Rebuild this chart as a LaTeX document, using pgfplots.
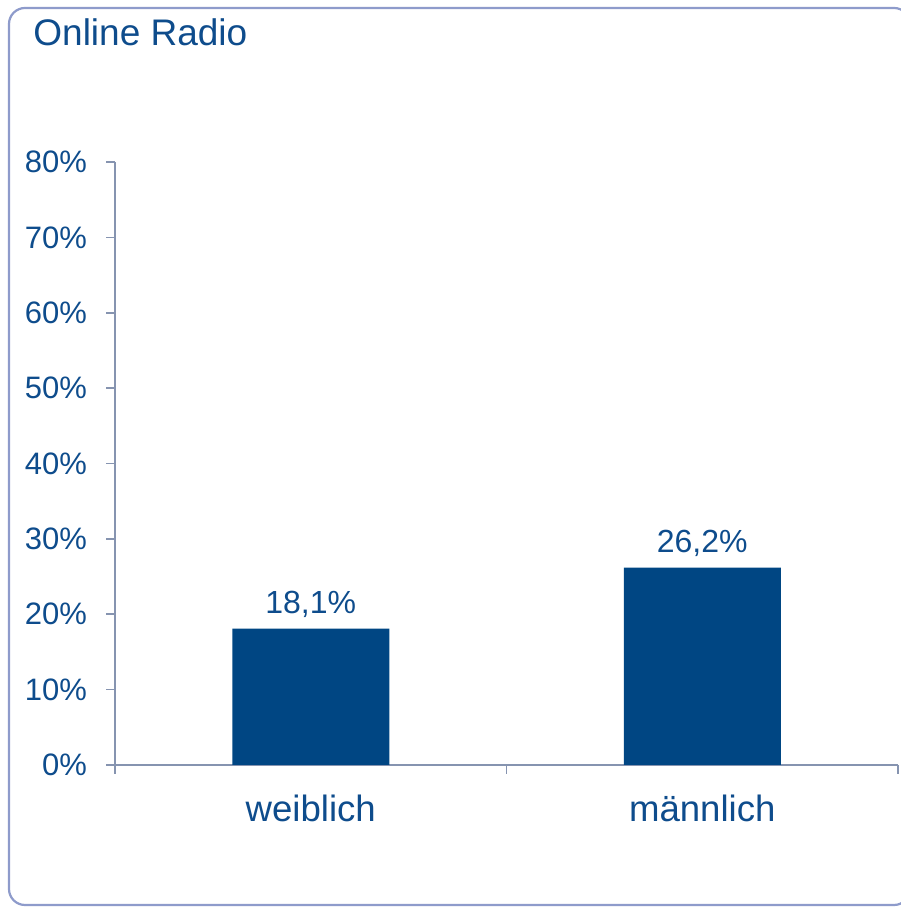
\documentclass[border=0pt]{standalone}
\usepackage{fontspec}
\setmainfont{Liberation Sans}
\usepackage{pgfplots}
\pgfplotsset{compat=1.18}
\definecolor{txt}{RGB}{14,76,140}
\definecolor{bar}{RGB}{0,70,131}
\definecolor{axisc}{RGB}{134,148,176}
\definecolor{frame}{RGB}{142,155,203}
\begin{document}
\begin{tikzpicture}[x=1bp,y=1bp]
\path[use as bounding box] (0,0) rectangle (450.5,454);
\draw[frame, line width=1.1bp, rounded corners=8bp] (4.5,1.5) rectangle (455,450);
\node[anchor=base west, text=txt, font=\fontsize{18.5bp}{22bp}\selectfont, inner sep=0pt] at (16.5,431) {Online Radio};
\begin{axis}[
  at={(57.5bp,71.5bp)}, anchor=south west,
  width=391.5bp, height=301.5bp, scale only axis,
  xmin=-0.5, xmax=1.5, ymin=0, ymax=80,
  axis lines=left, axis line style={axisc, line width=0.8bp, -},
  xtick={-0.5,0.5,1.5}, xticklabels={},
  extra x ticks={0,1}, extra x tick labels={weiblich, männlich},
  extra x tick style={tick style={draw=none}},
  ytick={0,10,...,80},
  yticklabel={\pgfmathprintnumber{\tick}\%},
  tick align=outside,
  major tick length=4.5bp,
  tick style={axisc, line width=0.8bp},
  /pgf/number format/assume math mode=true,
  xticklabel style={text=txt, font=\fontsize{18.3bp}{22bp}\selectfont, yshift=-7bp},
  yticklabel style={text=txt, font=\fontsize{15.5bp}{18bp}\selectfont, xshift=-6bp},
  ybar, bar width=78.5bp,
  nodes near coords={\pgfmathprintnumber[fixed,fixed zerofill,precision=1,use comma]{\pgfplotspointmeta}\%},
  nodes near coords style={text=txt, font=\fontsize{16bp}{19bp}\selectfont, yshift=2bp},
  clip=false,
]
\addplot[fill=bar, draw=none] coordinates {(0,18.1) (1,26.2)};
\end{axis}
\end{tikzpicture}
\end{document}
